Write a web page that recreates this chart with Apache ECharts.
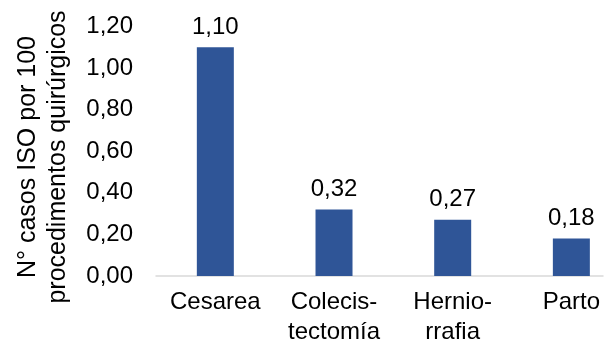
<!DOCTYPE html>
<html><head><meta charset="utf-8">
<script src="https://cdn.jsdelivr.net/npm/echarts@6/dist/echarts.min.js"></script>
<style>html,body{margin:0;padding:0;background:#fff}#c{width:611px;height:347px}</style>
</head><body><div id="c"></div>
<script>
const categories = ['Cesarea', 'Colecis-\ntectomía', 'Hernio-\nrrafia', 'Parto'];
const values = [1.10, 0.32, 0.27, 0.18];
const yTicks = { min: 0, max: 1.2, interval: 0.2 };
const yTitle = 'N° casos ISO por 100\nprocedimentos quirúrgicos';

const fmt = v => v.toFixed(2).replace('.', ',');
const FONT = 'Liberation Sans';
const FS = 24;
const chart = echarts.init(document.getElementById('c'), null, {renderer: 'canvas'});
chart.setOption({
  animation: false,
  textStyle: { fontFamily: FONT },
  grid: [
    { left: 156, top: 26.5, width: 474.7, bottom: 71, outerBoundsMode: 'none', containLabel: false },
    { left: 156, top: 26.5, right: 8, bottom: 71, outerBoundsMode: 'none', containLabel: false }
  ],
  xAxis: [
    {
      type: 'category', gridIndex: 0, data: categories,
      axisLine: { show: false }, axisTick: { show: false },
      axisLabel: { color: '#000', fontSize: FS, fontFamily: FONT, margin: 11, lineHeight: 30, interval: 0 }
    },
    {
      type: 'value', gridIndex: 1, min: 0, max: 1,
      axisLine: { show: true, lineStyle: { color: '#d9d9d9', width: 1.5 } },
      axisTick: { show: false }, axisLabel: { show: false }, splitLine: { show: false }
    }
  ],
  yAxis: [
    {
      type: 'value', gridIndex: 0, min: yTicks.min, max: yTicks.max, interval: yTicks.interval,
      axisLine: { show: false }, axisTick: { show: false }, splitLine: { show: false },
      axisLabel: { color: '#000', fontSize: FS, fontFamily: FONT, margin: 23, formatter: fmt }
    },
    {
      type: 'value', gridIndex: 1, min: 0, max: 1, show: false
    }
  ],
  graphic: [{
    type: 'text', x: 43, y: 157, rotation: Math.PI / 2,
    style: { text: yTitle, font: '25px "' + FONT + '"', fill: '#000', align: 'center', verticalAlign: 'middle', lineHeight: 30 }
  }],
  series: [{
    type: 'bar', xAxisIndex: 0, yAxisIndex: 0, data: values, barWidth: 37,
    itemStyle: { color: '#2F5597' },
    label: { show: true, position: 'top', color: '#000', fontSize: FS, fontFamily: FONT, distance: 8, formatter: p => fmt(p.value) }
  }]
});
</script></body></html>
